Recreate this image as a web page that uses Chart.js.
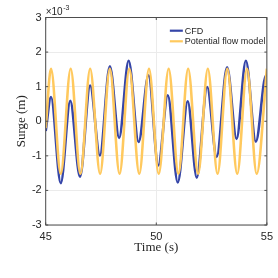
<!DOCTYPE html>
<html>
<head>
<meta charset="utf-8">
<script src="https://cdn.jsdelivr.net/npm/chart.js@4.4.1/dist/chart.umd.min.js"></script>
<style>
  html, body { margin: 0; padding: 0; background: #fff; }
  #wrap { width: 278px; height: 278px; }
</style>
</head>
<body>
<div id="wrap"><canvas id="chart1" width="278" height="278"></canvas></div>
<script>
// surge values are in units of 1e-3 m (axis shows x10^-3)
const cfdTime = [45.00, 45.24, 45.68, 46.11, 46.55, 47.01, 47.45, 47.90, 48.32, 48.75, 49.20, 49.65,
  50.09, 50.52, 50.97, 51.42, 51.83, 52.30, 52.73, 53.20, 53.63, 54.05, 54.50, 54.96, 55.00];
const cfdSurge = [-0.28, 0.70, -1.79, 0.59, -1.60, 1.03, -0.99, 1.59, -0.48, 1.75, -0.60, 1.33,
  -1.28, 0.75, -1.77, 0.58, -1.63, 0.99, -1.03, 1.56, -0.51, 1.75, -0.59, 1.32, 1.29];

const potTime = [45.00, 45.24, 45.68, 46.13, 46.57, 47.01, 47.46, 47.90, 48.34, 48.78, 49.23, 49.67,
  50.11, 50.56, 51.00, 51.44, 51.89, 52.33, 52.77, 53.21, 53.66, 54.10, 54.54, 55.00];
const potSurge = [-0.20, 1.52, -1.52, 1.52, -1.52, 1.52, -1.52, 1.52, -1.52, 1.52, -1.52, 1.52,
  -1.52, 1.52, -1.52, 1.52, -1.52, 1.52, -1.52, 1.52, -1.52, 1.52, -1.52, 1.52];

const seriesLabels = ['CFD', 'Potential flow model'];
const xTicks = [45, 50, 55];
const yTicks = [-3, -2, -1, 0, 1, 2, 3];

const toPoints = (xs, ys) => xs.map((x, i) => ({ x: x, y: ys[i] }));

const axisColor = '#262626';

// box around the axes, inward ticks, exponent label and legend
const frame = {
  id: 'frame',
  afterDraw(chart) {
    const { ctx, chartArea: a, scales: { x, y } } = chart;
    ctx.save();
    ctx.strokeStyle = '#4d4d4d';
    ctx.lineWidth = 1;
    ctx.strokeRect(a.left, a.top, a.right - a.left, a.bottom - a.top);

    ctx.beginPath();
    xTicks.forEach(v => {
      const px = x.getPixelForValue(v);
      ctx.moveTo(px, a.bottom); ctx.lineTo(px, a.bottom - 2.5);
      ctx.moveTo(px, a.top); ctx.lineTo(px, a.top + 2.5);
    });
    yTicks.forEach(v => {
      const py = y.getPixelForValue(v);
      ctx.moveTo(a.left, py); ctx.lineTo(a.left + 2.5, py);
      ctx.moveTo(a.right, py); ctx.lineTo(a.right - 2.5, py);
    });
    ctx.stroke();

    // x10^-3
    ctx.fillStyle = axisColor;
    ctx.textBaseline = 'alphabetic';
    ctx.font = '10px "Liberation Sans"';
    ctx.fillText('\u00d710', a.left, a.top - 3);
    const w = ctx.measureText('\u00d710').width;
    ctx.font = '7px "Liberation Sans"';
    ctx.fillText('-3', a.left + w + 0.5, a.top - 8);

    // legend
    ctx.font = '9px "Liberation Sans"';
    ctx.textBaseline = 'middle';
    const ds = chart.data.datasets;
    const tw = Math.max(...ds.map(d => ctx.measureText(d.label).width));
    const tx = a.right - 1.5 - tw;
    ds.forEach((d, i) => {
      const ly = a.top + 13.2 + i * 10.6;
      ctx.strokeStyle = d.borderColor;
      ctx.lineWidth = 2.2;
      ctx.beginPath();
      ctx.moveTo(tx - 15, ly); ctx.lineTo(tx - 2, ly);
      ctx.stroke();
      ctx.fillStyle = axisColor;
      ctx.fillText(d.label, tx, ly + 0.5);
    });
    ctx.restore();
  }
};

new Chart(document.getElementById('chart1').getContext('2d'), {
  type: 'line',
  data: {
    datasets: [{
      label: seriesLabels[0],
      data: toPoints(cfdTime, cfdSurge),
      borderColor: '#3545a8',
      borderWidth: 2.6,
      pointRadius: 0,
      cubicInterpolationMode: 'monotone',
      order: 1
    }, {
      label: seriesLabels[1],
      data: toPoints(potTime, potSurge),
      borderColor: '#ffc95e',
      borderWidth: 2.6,
      pointRadius: 0,
      cubicInterpolationMode: 'monotone',
      order: 0
    }]
  },
  options: {
    responsive: false,
    animation: false,
    layout: { padding: { left: 0, right: 10, top: 17.5, bottom: 0 } },
    plugins: {
      legend: { display: false },
      tooltip: { enabled: false }
    },
    scales: {
      x: {
        type: 'linear',
        min: 45, max: 55,
        afterFit: s => { s.height = 53; },
        afterBuildTicks: s => { s.ticks = xTicks.map(v => ({ value: v })); },
        grid: { color: '#ebebeb', drawTicks: false },
        border: { display: false },
        ticks: { padding: 5, color: axisColor, font: { family: 'Liberation Sans', size: 11 } },
        title: {
          display: true, text: 'Time (s)', color: axisColor,
          font: { family: 'Liberation Serif', size: 13 },
          padding: { top: 0, bottom: 23 }
        }
      },
      y: {
        min: -3, max: 3,
        afterFit: s => { s.width = 45.7; },
        afterBuildTicks: s => { s.ticks = yTicks.map(v => ({ value: v })); },
        grid: { color: '#ebebeb', drawTicks: false },
        border: { display: false },
        ticks: { padding: 4, color: axisColor, font: { family: 'Liberation Sans', size: 11 } },
        title: {
          display: true, text: 'Surge (m)', color: axisColor,
          font: { family: 'Liberation Serif', size: 13 },
          padding: { top: 14, bottom: 0 }
        }
      }
    }
  },
  plugins: [frame]
});
</script>
</body>
</html>
